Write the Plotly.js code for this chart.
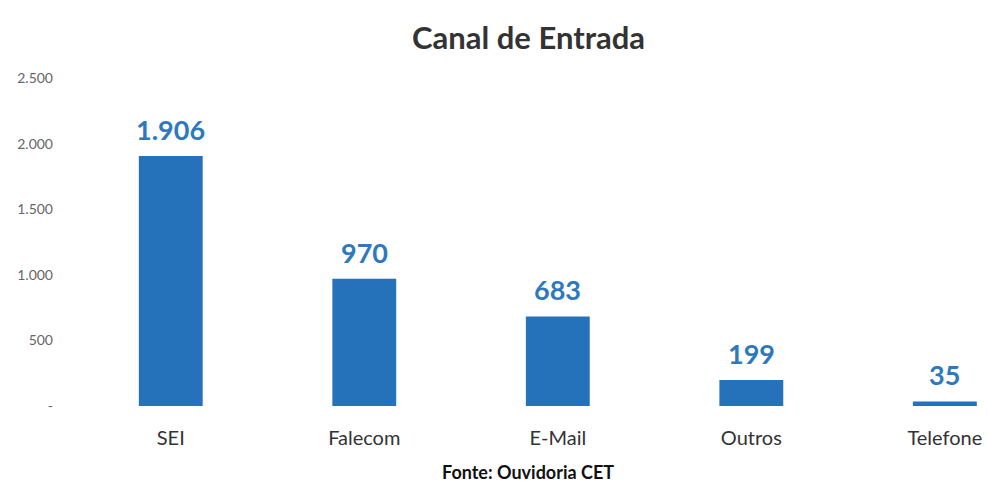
<!DOCTYPE html>
<html><head><meta charset="utf-8">
<script src="https://cdn.plot.ly/plotly-3.0.1.min.js"></script>
<style>html,body{margin:0;padding:0;background:#fff;overflow:hidden}</style>
</head><body><div id="chart" style="width:988px;height:484px"></div>
<script>
const categories = ["SEI", "Falecom", "E-Mail", "Outros", "Telefone"];
const values = [1906, 970, 683, 199, 35];
const yTickVals = [0, 500, 1000, 1500, 2000, 2500];
const yTickText = ["-", "500", "1.000", "1.500", "2.000", "2.500"];
const labels = ["1.906", "970", "683", "199", "35"];

const FONT = "Lato, 'Open Sans', sans-serif";
const annotations = categories.map((c, i) => ({
  x: c, y: values[i], xref: "x", yref: "y", text: "<b>" + labels[i] + "</b>",
  showarrow: false, yanchor: "bottom", yshift: 8,
  font: {family: FONT, size: 27, color: "#2E78BE"}
}));
annotations.push({text: "<b>Fonte: Ouvidoria CET</b>", xref: "paper", yref: "paper", x: 0.497, y: -0.2, xanchor: "center",
                  yanchor: "middle", showarrow: false, font: {family: FONT, size: 18, color: "#111"}});

Plotly.newPlot("chart", [{
  type: "bar",
  x: categories,
  y: values,
  width: 0.33,
  marker: {color: "#2572BA"},
  hoverinfo: "none"
}], {
  width: 988, height: 484,
  margin: {l: 74, r: 0, t: 78, b: 78},
  paper_bgcolor: "#fff", plot_bgcolor: "#fff",
  showlegend: false,
  title: {text: "<b>Canal de Entrada</b>", x: 0.535, xanchor: "center", y: 0.922, yanchor: "middle",
          font: {family: FONT, size: 31, color: "#333"}},
  xaxis: {type: "category", range: [-0.5, 4.223], showgrid: false, zeroline: false, showline: false,
          ticks: "", ticklabelstandoff: 18, tickfont: {family: FONT, size: 20, color: "#333"}},
  yaxis: {range: [0, 2500], tickvals: yTickVals, ticktext: yTickText, showgrid: false, zeroline: false,
          showline: false, ticks: "", ticklabelstandoff: 20, tickfont: {family: FONT, size: 14, color: "#666"}},
  annotations: annotations
}, {staticPlot: true});
</script></body></html>
